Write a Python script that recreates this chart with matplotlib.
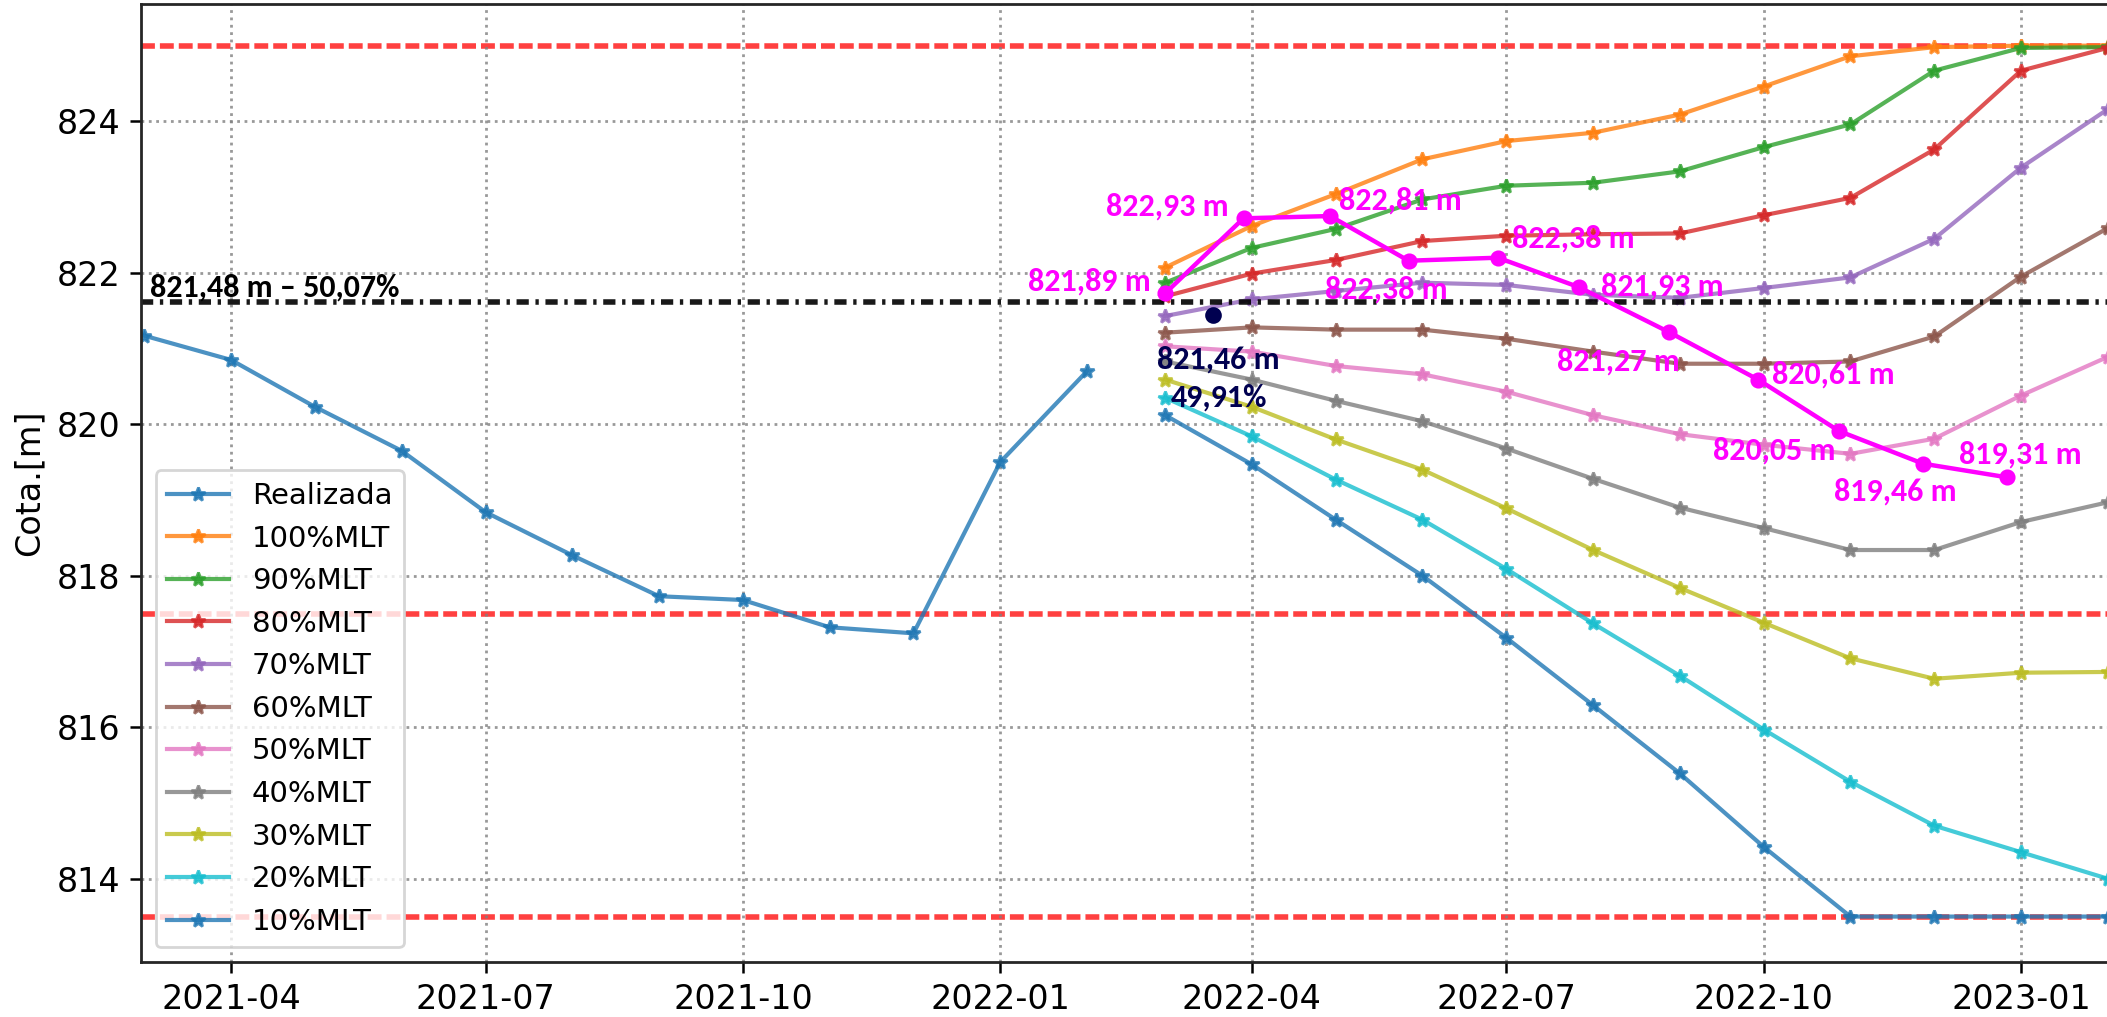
import datetime as dt
import matplotlib
matplotlib.use("Agg")
import matplotlib.pyplot as plt
import matplotlib.dates as mdates
from matplotlib.ticker import MultipleLocator
from matplotlib import font_manager as fm

# ---------------- data ----------------
real_dates = ["2021-03-01", "2021-04-01", "2021-05-01", "2021-06-01", "2021-07-01", "2021-08-01",
              "2021-09-01", "2021-10-01", "2021-11-01", "2021-12-01", "2022-01-01", "2022-02-01"]
real_vals = [821.17, 820.85, 820.23, 819.65, 818.84, 818.27, 817.73, 817.68, 817.32, 817.24, 819.50, 820.70]

proj_dates = ["2022-03-01", "2022-04-01", "2022-05-01", "2022-06-01", "2022-07-01", "2022-08-01",
              "2022-09-01", "2022-10-01", "2022-11-01", "2022-12-01", "2023-01-01", "2023-02-01"]
mlt_100 = [822.07, 822.62, 823.04, 823.50, 823.74, 823.85, 824.09, 824.46, 824.86, 824.98, 825.00, 825.00]
mlt_90 = [821.87, 822.33, 822.58, 822.97, 823.15, 823.19, 823.34, 823.66, 823.96, 824.67, 824.97, 824.98]
mlt_80 = [821.69, 821.99, 822.17, 822.42, 822.49, 822.51, 822.52, 822.76, 822.99, 823.63, 824.67, 824.97]
mlt_70 = [821.43, 821.65, 821.76, 821.87, 821.84, 821.71, 821.67, 821.80, 821.94, 822.45, 823.39, 824.16]
mlt_60 = [821.21, 821.28, 821.25, 821.25, 821.13, 820.96, 820.80, 820.80, 820.83, 821.16, 821.95, 822.59]
mlt_50 = [821.03, 820.96, 820.77, 820.66, 820.43, 820.12, 819.87, 819.73, 819.61, 819.81, 820.38, 820.89]
mlt_40 = [820.83, 820.59, 820.31, 820.04, 819.68, 819.28, 818.90, 818.63, 818.34, 818.34, 818.71, 818.97]
mlt_30 = [820.59, 820.23, 819.80, 819.40, 818.89, 818.34, 817.84, 817.38, 816.91, 816.64, 816.72, 816.73]
mlt_20 = [820.35, 819.84, 819.27, 818.74, 818.09, 817.37, 816.68, 815.97, 815.28, 814.70, 814.35, 814.00]
mlt_10 = [820.12, 819.47, 818.74, 818.00, 817.18, 816.29, 815.39, 814.42, 813.50, 813.50, 813.50, 813.50]
mlt_labels = ["100%MLT", "90%MLT", "80%MLT", "70%MLT", "60%MLT", "50%MLT",
              "40%MLT", "30%MLT", "20%MLT", "10%MLT"]
mlt_series = [mlt_100, mlt_90, mlt_80, mlt_70, mlt_60, mlt_50, mlt_40, mlt_30, mlt_20, mlt_10]
mlt_colors = ["C1", "C2", "C3", "C4", "C5", "C6", "C7", "C8", "C9", "C0"]

obs_dates = ["2022-03-01", "2022-03-29", "2022-04-29", "2022-05-27", "2022-06-28", "2022-07-27",
             "2022-08-28", "2022-09-29", "2022-10-28", "2022-11-27", "2022-12-27"]
obs_vals = [821.73, 822.72, 822.75, 822.16, 822.20, 821.81, 821.22, 820.59, 819.91, 819.48, 819.30]

# annotation texts and anchors (date, value of baseline)
obs_labels = ["821,89 m", "822,93 m", "822,81 m", "822,38 m", "822,38 m", "821,93 m",
              "821,27 m", "820,61 m", "820,05 m", "819,46 m", "819,31 m"]
obs_label_pos = [("2022-01-11", 821.76), ("2022-02-08", 822.76), ("2022-05-02", 822.83),
                 ("2022-04-27", 821.66), ("2022-07-03", 822.34), ("2022-08-04", 821.70),
                 ("2022-07-19", 820.71), ("2022-10-04", 820.54), ("2022-09-13", 819.53),
                 ("2022-10-26", 818.99), ("2022-12-10", 819.48)]

cur_date = "2022-03-18"
cur_val = 821.44
cur_texts = ["821,46 m", "49,91%"]
cur_text_pos = [("2022-02-26", 820.74), ("2022-03-03", 820.23)]

ref_level = 821.61
ref_text = "821,48 m – 50,07%"
ref_text_pos = ("2021-03-03", 821.69)

limit_levels = [825.0, 817.5, 813.5]

def d(s):
    return dt.datetime.strptime(s, "%Y-%m-%d")

# ---------------- fonts ----------------
names = {f.name for f in fm.fontManager.ttflist}
ann_font, ann_size = "DejaVu Sans", 8.4
for cand, size in [("Carlito", 11.5), ("Liberation Sans Narrow", 12.6), ("Open Sans", 10.2), ("Lato", 10.6)]:
    if cand in names:
        ann_font, ann_size = cand, size
        break

# ---------------- figure ----------------
DPI = 200
fig = plt.figure(figsize=(2107 / DPI, 1017 / DPI), dpi=DPI)
ax = fig.add_axes([141 / 2107, 1 - 962 / 1017, 1 - 141 / 2107, (962 - 4) / 1017])

for lv in limit_levels:
    ax.axhline(lv, color="red", alpha=0.75, lw=2.0, ls=(0, (2.5, 0.9)), zorder=1.2)

rd = [d(s) for s in real_dates]
ax.plot(rd, real_vals, color="C0", marker="*", ms=5, lw=1.5, alpha=0.8, label="Realizada", zorder=2)

pd_ = [d(s) for s in proj_dates]
for vals, lab, col in zip(mlt_series, mlt_labels, mlt_colors):
    ax.plot(pd_, vals, color=col, marker="*", ms=5, lw=1.5, alpha=0.8, label=lab, zorder=2)

ax.axhline(ref_level, color="black", alpha=0.9, lw=2.0, ls=(0, (2.2, 1.2, 0.6, 1.2)), zorder=2.5)

od = [d(s) for s in obs_dates]
ax.plot(od, obs_vals, color="magenta", marker="o", ms=4.8, lw=1.6, zorder=3)

ax.plot([d(cur_date)], [cur_val], color="#000050", marker="o", ms=5, ls="none", zorder=3)

tkw = dict(fontfamily=[ann_font, "DejaVu Sans"], fontweight="bold", fontsize=ann_size,
           ha="left", va="baseline", zorder=4)
for txt, (ds, v) in zip(obs_labels, obs_label_pos):
    ax.text(d(ds), v, txt, color="magenta", **tkw)
for txt, (ds, v) in zip(cur_texts, cur_text_pos):
    ax.text(d(ds), v, txt, color="#000050", **tkw)
ax.text(d(ref_text_pos[0]), ref_text_pos[1], ref_text, color="black", **tkw)

ax.set_xlim(dt.datetime(2021, 2, 27, 19), dt.datetime(2023, 1, 31, 18))
ax.set_ylim(812.9, 825.55)
ax.xaxis.set_major_locator(mdates.MonthLocator(bymonth=[1, 4, 7, 10]))
ax.xaxis.set_major_formatter(mdates.DateFormatter("%Y-%m"))
ax.yaxis.set_major_locator(MultipleLocator(2))
ax.tick_params(axis="both", labelsize=12, length=4, width=0.9)
ax.set_ylabel("Cota.[m]", fontsize=12)
ax.grid(True, ls=":", color="gray", alpha=0.8, lw=1.0)
ax.spines["right"].set_visible(False)
for s in ["left", "bottom", "top"]:
    ax.spines[s].set_color("#262626")
    ax.spines[s].set_linewidth(1.0)

ax.legend(loc="lower left", fontsize=10.5, handlelength=2.1)

fig.savefig("out.png", dpi=DPI)
